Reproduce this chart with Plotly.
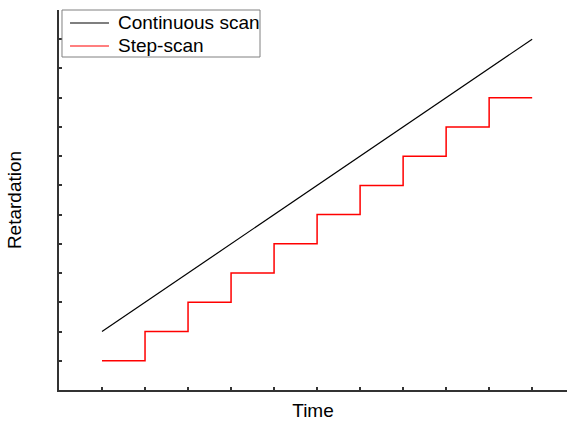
import plotly.graph_objects as go

# Data (arbitrary units)
continuous_time = [1, 11]
continuous_retardation = [2, 12]
step_time = [1, 2, 3, 4, 5, 6, 7, 8, 9, 10, 11]
step_retardation = [1, 2, 3, 4, 5, 6, 7, 8, 9, 10, 10]
x_ticks = [1, 2, 3, 4, 5, 6, 7, 8, 9, 10, 11]
y_ticks = [1, 2, 3, 4, 5, 6, 7, 8, 9, 10, 11, 12]
series_names = ["Continuous scan", "Step-scan"]
series_colors = ["black", "red"]

fig = go.Figure()
fig.add_trace(go.Scatter(x=continuous_time, y=continuous_retardation, mode="lines",
                         name=series_names[0], line=dict(color=series_colors[0], width=1.2)))
fig.add_trace(go.Scatter(x=step_time, y=step_retardation, mode="lines",
                         name=series_names[1],
                         line=dict(color=series_colors[1], width=1.5, shape="hv")))

# Compact legend (box, line samples and labels) in paper coordinates
legend_box = dict(x0=0.0059, x1=0.3957, y0=0.8763, y1=1.0)
row_y = [0.9658, 0.9053]
shapes = [dict(type="rect", xref="paper", yref="paper", **legend_box,
               line=dict(color="#808080", width=1), fillcolor="white", layer="above")]
annotations = []
for name, color, yy in zip(series_names, series_colors, row_y):
    shapes.append(dict(type="line", xref="paper", yref="paper",
                       x0=0.0217, x1=0.0984, y0=yy, y1=yy,
                       line=dict(color=color, width=1.2), layer="above"))
    annotations.append(dict(text=name, xref="paper", yref="paper", x=0.1122, y=yy,
                            xanchor="left", yanchor="middle", showarrow=False,
                            font=dict(size=19, color="black")))

fig.update_layout(
    width=567, height=421,
    margin=dict(l=59, r=0, t=10, b=31),
    plot_bgcolor="white", paper_bgcolor="white",
    font=dict(family="Liberation Sans, Arial", size=19, color="black"),
    showlegend=False,
    shapes=shapes,
    annotations=annotations,
    xaxis=dict(range=[0, 11.81], tickvals=x_ticks, showticklabels=False,
               ticks="inside", ticklen=3, tickwidth=2, tickcolor="#333",
               showline=True, linecolor="#333", linewidth=2, mirror=False,
               showgrid=False, zeroline=False, automargin=False,
               title=dict(text="Time", font=dict(size=19), standoff=13)),
    yaxis=dict(range=[0, 13], tickvals=y_ticks, showticklabels=False,
               ticks="inside", ticklen=3, tickwidth=1.5, tickcolor="#333",
               showline=True, linecolor="#333", linewidth=2, mirror=False,
               showgrid=False, zeroline=False, automargin=False,
               title=dict(text="Retardation", font=dict(size=19), standoff=30)),
)

fig.write_html("out.html")
